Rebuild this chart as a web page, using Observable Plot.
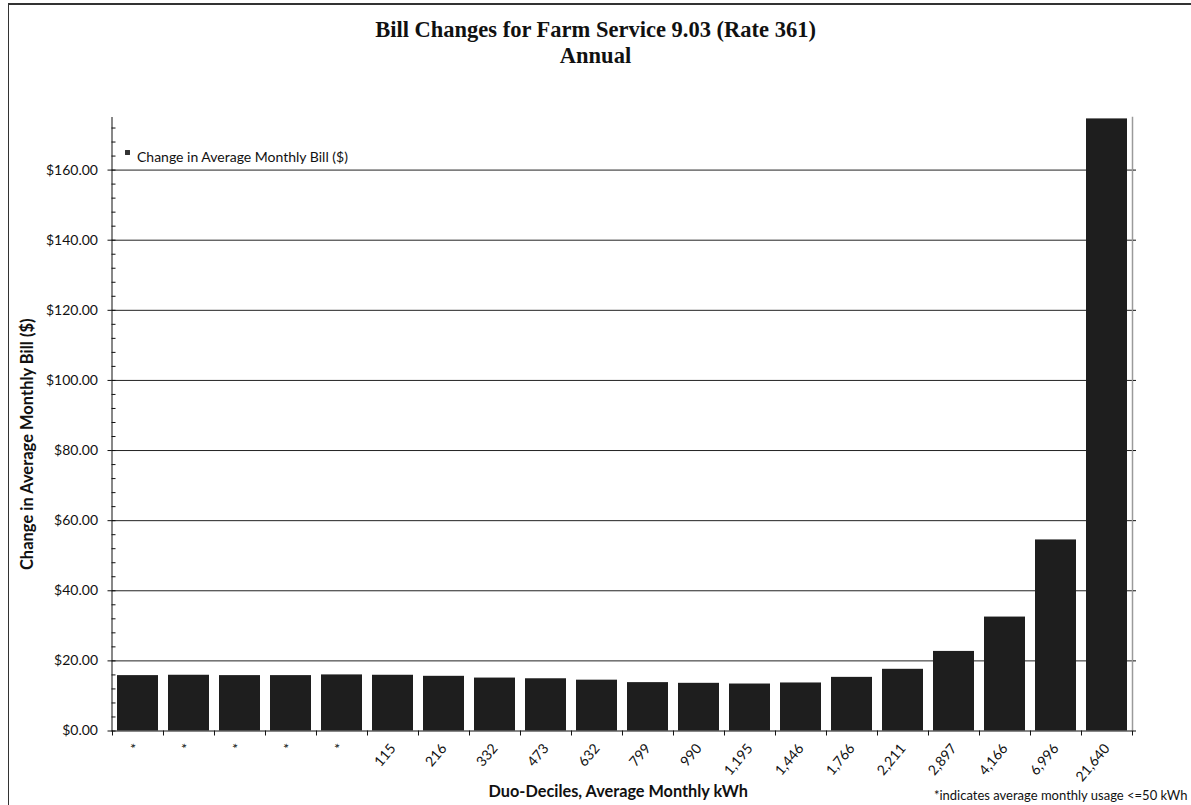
<!DOCTYPE html>
<html>
<head>
<meta charset="utf-8">
<script src="https://cdn.jsdelivr.net/npm/d3@7"></script>
<script src="https://cdn.jsdelivr.net/npm/@observablehq/plot@0.6"></script>
<style>
  html, body { margin: 0; padding: 0; background: #fff; }
  #page { position: relative; width: 1191px; height: 805px; overflow: hidden; background: #fff; }
  #frameLines { position: absolute; left: 8px; top: 3px; width: 1183px; height: 810px; z-index: 5; pointer-events: none;
    border-left: 1.5px solid #333; border-top: 2px solid #333; box-sizing: border-box; }
  #title { position: absolute; left: 0; top: 0; width: 1191px; height: 100px; text-align: center;
    font-family: "Liberation Serif", "DejaVu Serif", serif; font-weight: bold; font-size: 22.5px; color: #111; line-height: 1.15; }
  #title .t1 { position: absolute; left: 0; width: 100%; top: 17px; }
  #title .t2 { position: absolute; left: 0; width: 100%; top: 43px; }
  #chart { position: absolute; left: 0; top: 100px; }
</style>
</head>
<body>
<div id="page">
  <div id="title"><div class="t1">Bill Changes for Farm Service 9.03 (Rate 361)</div><div class="t2">Annual</div></div>
  <div id="chart"></div>
  <div id="frameLines"></div>
</div>
<script>
const deciles = ["*","*","*","*","*","115","216","332","473","632","799","990","1,195","1,446","1,766","2,211","2,897","4,166","6,996","21,640"];
const billChange = [15.8, 15.9, 15.8, 15.8, 16.0, 15.9, 15.6, 15.1, 14.9, 14.5, 13.8, 13.6, 13.4, 13.7, 15.3, 17.6, 22.7, 32.5, 54.5, 174.6];
const yMajorTicks = [0, 20, 40, 60, 80, 100, 120, 140, 160];
const yMinorTicks = d3.range(0, 176, 4);
const seriesName = "Change in Average Monthly Bill ($)";
const yTitle = "Change in Average Monthly Bill ($)";
const xTitle = "Duo-Deciles, Average Monthly kWh";
const footnote = "*indicates average monthly usage <=50 kWh";

const data = deciles.map((label, i) => ({i, label, value: billChange[i]}));

const W = 1191, H = 705;
const mL = 111.5, mR = 59, mT = 17, mB = 74.5;
const step = (W - mL - mR) / deciles.length;
const idx = d3.range(deciles.length);

const chart = Plot.plot({
  width: W,
  height: H,
  marginLeft: mL,
  marginRight: mR,
  marginTop: mT,
  marginBottom: mB,
  style: {fontFamily: "Lato, 'Open Sans', sans-serif", fontSize: "14px", color: "#111", background: "transparent"},
  x: {domain: idx, paddingInner: 0.2, paddingOuter: 0.1},
  y: {domain: [0, 175]},
  marks: [
    Plot.ruleY(yMajorTicks.filter(d => d > 0), {stroke: "#222", strokeWidth: 1}),
    Plot.barY(data, {x: "i", y: "value", fill: "#1e1e1e"}),
    Plot.frame({anchor: "right", stroke: "#9a9a9a", strokeWidth: 1.5}),
    Plot.frame({anchor: "left", stroke: "#111", strokeWidth: 1}),
    Plot.ruleY([0], {stroke: "#111", strokeWidth: 1}),
    Plot.axisY({anchor: "left", ticks: yMajorTicks, tickSize: 4, tickPadding: 10,
      tickFormat: d => "$" + d.toFixed(2), label: null, fontSize: 14}),
    Plot.axisY({anchor: "left", ticks: yMinorTicks, tickSize: 4, dx: 4, tickFormat: () => "", label: null}),
    Plot.axisY({anchor: "right", ticks: yMajorTicks, tickSize: 3, tickFormat: () => "", label: null}),
    Plot.axisX({anchor: "bottom", tickSize: 0, tickRotate: -50, tickPadding: 15,
      tickFormat: i => deciles[i], label: null, fontSize: 14}),
    Plot.axisX({anchor: "bottom", tickSize: 5, dx: -step / 2, tickFormat: () => "", label: null}),
    Plot.axisX({anchor: "bottom", ticks: [idx[idx.length - 1]], tickSize: 5, dx: step / 2, tickFormat: () => "", label: null}),
    Plot.dot([seriesName], {frameAnchor: "top-left", symbol: "square", r: 2.8, fill: "#333", dx: 15.5, dy: 35}),
    Plot.text([seriesName], {frameAnchor: "top-left", dx: 25, dy: 35, textAnchor: "start", fontSize: 14, fill: "#111"}),
    Plot.text([yTitle], {frameAnchor: "left", rotate: -90, textAnchor: "middle", dx: -84, dy: 20, fontWeight: "bold", fontSize: 16.5, fill: "#111"}),
    Plot.text([xTitle], {frameAnchor: "bottom", dx: -4, dy: 66, fontWeight: "bold", fontSize: 16.3, fill: "#111"}),
    Plot.text([footnote], {frameAnchor: "bottom-right", dx: 55, dy: 69, textAnchor: "end", fontSize: 13, fill: "#111"})
  ]
});
document.getElementById("chart").appendChild(chart);
</script>
</body>
</html>
